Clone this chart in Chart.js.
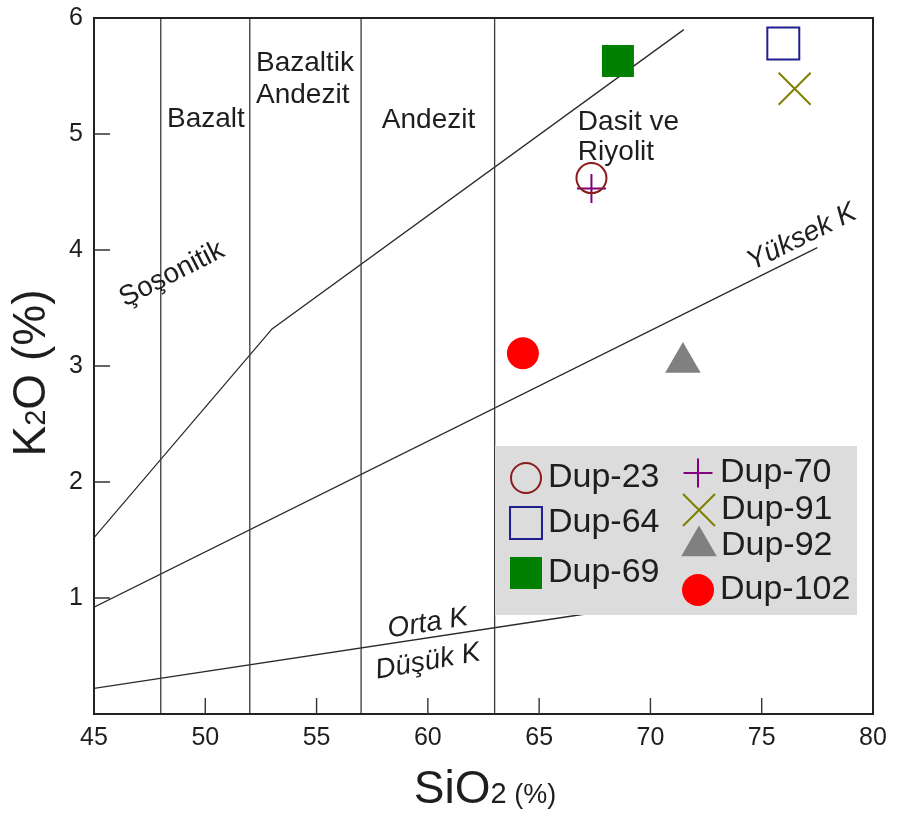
<!DOCTYPE html>
<html>
<head>
<meta charset="utf-8">
<script src="https://cdn.jsdelivr.net/npm/chart.js@4/dist/chart.umd.min.js"></script>
<style>
  html, body { margin: 0; padding: 0; background: #ffffff; }
  #wrap { width: 897px; height: 819px; }
</style>
</head>
<body>
<div id="wrap"><canvas id="c" width="897" height="819"></canvas></div>
<script>
// Axis ticks
const xTicks = [45, 50, 55, 60, 65, 70, 75, 80];
const yTicks = [1, 2, 3, 4, 5, 6];

// Rock-type field dividers (SiO2 %)
const fieldDividers = [48, 52, 57, 63];

// Series boundary lines (SiO2 %, K2O %)
const shoshoniticX = [45, 53, 71.5];
const shoshoniticY = [1.52, 3.32, 5.9];
const highKX = [45, 77.5];
const highKY = [0.92, 4.02];
const mediumKX = [45, 67];
const mediumKY = [0.22, 0.86];

// Samples
const sampleNames = ['Dup-23', 'Dup-64', 'Dup-69', 'Dup-70', 'Dup-91', 'Dup-92', 'Dup-102'];
const sampleSiO2 = [67.35, 75.97, 68.54, 67.35, 76.48, 71.46, 64.27];
const sampleK2O  = [4.62, 5.78, 5.63, 4.53, 5.39, 3.03, 3.11];

// Marker appearance per sample
const sampleStyles = [
  { pointStyle: 'circle',   radius: 15,   fill: 'rgba(0,0,0,0)', stroke: '#8b1a1a', width: 2 },
  { pointStyle: 'rect',     radius: 22.6, fill: 'rgba(0,0,0,0)', stroke: '#1f1f8f', width: 2 },
  { pointStyle: 'rect',     radius: 22.6, fill: '#008000',       stroke: '#008000', width: 0 },
  { pointStyle: 'cross',    radius: 14.5, fill: '#800080',       stroke: '#800080', width: 2 },
  { pointStyle: 'crossRot', radius: 22.6, fill: '#808000',       stroke: '#808000', width: 2 },
  { pointStyle: 'triangle', radius: 20.5, fill: '#808080',       stroke: '#808080', width: 0 },
  { pointStyle: 'circle',   radius: 16,   fill: '#ff0000',       stroke: '#ff0000', width: 0 }
];

// Field and series labels: [text, SiO2, K2O, angle(deg), italic, align]
const fieldLabels = [
  ['Bazalt',    50.03, 5.13, 0,   false, 'center'],
  ['Bazaltik',  52.28, 5.61, 0,   false, 'left'],
  ['Andezit',   52.28, 5.33, 0,   false, 'left'],
  ['Andezit',   60.03, 5.12, 0,   false, 'center'],
  ['Dasit ve',  66.74, 5.10, 0,   false, 'left'],
  ['Riyolit',   66.74, 4.84, 0,   false, 'left'],
  ['Şoşonitik', 48.50, 3.79, -27, false, 'center'],
  ['Yüksek K',  76.80, 4.11, -26.5, true, 'center'],
  ['Orta K',    60.00, 0.78, -9,  true,  'center'],
  ['Düşük K',   60.00, 0.45, -10, true,  'center']
];

const FONT = '"Liberation Sans", Arial, Helvetica, sans-serif';
const INK = '#1e1e1e';

function lineData(xs, ys) { return xs.map((x, i) => ({ x: x, y: ys[i] })); }

const boundaryStyle = { showLine: true, pointRadius: 0, borderColor: '#2a2a2a', borderWidth: 1.3, tension: 0, fill: false };

const datasets = [];
sampleNames.forEach((name, i) => {
  const s = sampleStyles[i];
  datasets.push({
    label: name,
    data: [{ x: sampleSiO2[i], y: sampleK2O[i] }],
    pointStyle: s.pointStyle,
    pointRadius: s.radius,
    pointBackgroundColor: s.fill,
    pointBorderColor: s.stroke,
    pointBorderWidth: s.width,
    showLine: false
  });
});
fieldDividers.forEach(x => {
  datasets.push(Object.assign({ label: 'divider', data: [{ x: x, y: 0 }, { x: x, y: 6 }] }, boundaryStyle, { borderColor: '#3a3a3a' }));
});
datasets.push(Object.assign({ label: 'shoshonitic', data: lineData(shoshoniticX, shoshoniticY) }, boundaryStyle));
datasets.push(Object.assign({ label: 'highK', data: lineData(highKX, highKY) }, boundaryStyle));
datasets.push(Object.assign({ label: 'mediumK', data: lineData(mediumKX, mediumKY) }, boundaryStyle));

// Legend layout (pixels inside the plot)
const legendBox = { left: 495, top: 446, right: 857, bottom: 615 };
const legendRows = [
  [0, 526, 478],
  [1, 526, 523],
  [2, 526, 573],
  [3, 698, 473],
  [4, 699, 510],
  [5, 699, 546],
  [6, 698, 590]
];

function drawMarker(ctx, s, x, y) {
  ctx.save();
  ctx.fillStyle = s.fill;
  ctx.strokeStyle = s.stroke;
  ctx.lineWidth = s.width;
  Chart.helpers.drawPoint(ctx, { pointStyle: s.pointStyle, radius: s.radius, borderWidth: s.width, rotation: 0 }, x, y);
  ctx.restore();
}

function drawParts(ctx, parts, x, y, rotate) {
  ctx.save();
  let total = 0;
  parts.forEach(p => { ctx.font = p.size + 'px ' + FONT; p.w = ctx.measureText(p.t).width; total += p.w; });
  ctx.translate(x, y);
  if (rotate) ctx.rotate(rotate);
  ctx.fillStyle = INK;
  ctx.textBaseline = 'alphabetic';
  ctx.textAlign = 'left';
  let cx = -total / 2;
  parts.forEach(p => { ctx.font = p.size + 'px ' + FONT; ctx.fillText(p.t, cx, 0); cx += p.w; });
  ctx.restore();
}

const decorations = {
  id: 'decorations',
  afterDatasetsDraw(chart) {
    const ctx = chart.ctx;
    const xs = chart.scales.x, ys = chart.scales.y;
    const a = chart.chartArea;

    // field and series labels
    fieldLabels.forEach(([t, sx, sy, ang, it, al]) => {
      ctx.save();
      ctx.translate(xs.getPixelForValue(sx), ys.getPixelForValue(sy));
      ctx.rotate(ang * Math.PI / 180);
      ctx.font = (it ? 'italic ' : '') + '28px ' + FONT;
      ctx.fillStyle = INK;
      ctx.textAlign = al;
      ctx.textBaseline = 'middle';
      ctx.fillText(t, 0, 0);
      ctx.restore();
    });

    // legend
    ctx.save();
    ctx.fillStyle = '#dcdcdc';
    ctx.fillRect(legendBox.left, legendBox.top, legendBox.right - legendBox.left, legendBox.bottom - legendBox.top);
    ctx.restore();
    legendRows.forEach(([i, mx, my]) => {
      drawMarker(ctx, sampleStyles[i], mx, my);
      ctx.save();
      ctx.font = '34px ' + FONT;
      ctx.fillStyle = INK;
      ctx.textAlign = 'left';
      ctx.textBaseline = 'middle';
      ctx.fillText(sampleNames[i], mx + 22, my);
      ctx.restore();
    });

    // frame and inside ticks
    ctx.save();
    ctx.strokeStyle = '#222';
    ctx.lineWidth = 2;
    ctx.strokeRect(a.left, a.top, a.right - a.left, a.bottom - a.top);
    ctx.lineWidth = 1.4;
    ctx.strokeStyle = '#333';
    ctx.beginPath();
    xTicks.forEach(v => {
      if (v === xs.min || v === xs.max) return;
      const px = xs.getPixelForValue(v);
      ctx.moveTo(px, a.bottom);
      ctx.lineTo(px, a.bottom - 16);
    });
    yTicks.forEach(v => {
      if (v === ys.max) return;
      const py = ys.getPixelForValue(v);
      ctx.moveTo(a.left, py);
      ctx.lineTo(a.left + 16, py);
    });
    ctx.stroke();
    ctx.restore();

    // axis titles
    drawParts(ctx, [{ t: 'SiO', size: 46 }, { t: '2', size: 29 }, { t: ' (%)', size: 27 }], 485, 803, 0);
    drawParts(ctx, [{ t: 'K', size: 46 }, { t: '2', size: 29 }, { t: 'O (%)', size: 46 }], 45, 373, -Math.PI / 2);
  }
};

new Chart(document.getElementById('c'), {
  type: 'scatter',
  data: { datasets: datasets },
  options: {
    responsive: false,
    animation: false,
    layout: { autoPadding: false, padding: { top: 18, right: 24, left: 0, bottom: 0 } },
    plugins: { legend: { display: false }, tooltip: { enabled: false } },
    scales: {
      x: {
        type: 'linear', min: 45, max: 80,
        afterBuildTicks: s => { s.ticks = xTicks.map(v => ({ value: v })); },
        afterFit: s => { s.height = 105; s.paddingLeft = 0; s.paddingRight = 0; },
        grid: { display: false, drawTicks: false },
        border: { display: false },
        ticks: { font: { size: 25, family: FONT }, color: INK, padding: 9, maxRotation: 0, autoSkip: false }
      },
      y: {
        type: 'linear', min: 0, max: 6,
        afterBuildTicks: s => { s.ticks = yTicks.map(v => ({ value: v })); },
        afterFit: s => { s.width = 94; s.paddingTop = 0; s.paddingBottom = 0; },
        grid: { display: false, drawTicks: false },
        border: { display: false },
        ticks: { font: { size: 25, family: FONT }, color: INK, padding: 11, autoSkip: false }
      }
    }
  },
  plugins: [decorations]
});
</script>
</body>
</html>
